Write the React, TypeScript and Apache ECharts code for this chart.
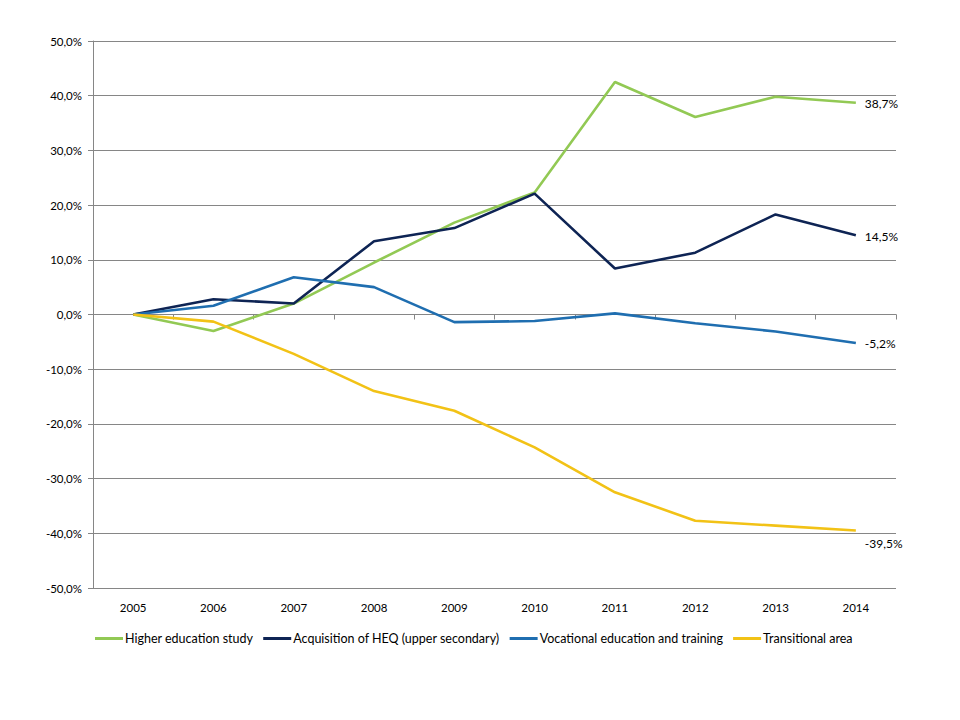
import React, { useEffect, useRef } from "react";
import * as echarts from "echarts";

const years = ["2005", "2006", "2007", "2008", "2009", "2010", "2011", "2012", "2013", "2014"];
const higherEducation = [0, -3.0, 2.0, 9.5, 16.8, 22.3, 42.5, 36.1, 39.8, 38.7];
const acquisitionHEQ = [0, 2.8, 2.0, 13.4, 15.8, 22.1, 8.4, 11.3, 18.3, 14.5];
const vocational = [0, 1.6, 6.8, 5.0, -1.4, -1.2, 0.2, -1.6, -3.1, -5.2];
const transitional = [0, -1.3, -7.2, -14.0, -17.6, -24.3, -32.5, -37.7, -38.6, -39.5];

const seriesNames = [
  "Higher education study",
  "Acquisition of HEQ (upper secondary)",
  "Vocational education and training",
  "Transitional area",
];
const seriesColors = ["#92C954", "#0E2454", "#1F6EB0", "#F2C216"];

const FONT = "Lato, 'Open Sans', sans-serif";
const fmt = (v: number) => v.toFixed(1).replace(".", ",") + "%";

export default function App() {
  const ref = useRef<HTMLDivElement>(null);
  useEffect(() => {
    if (!ref.current) return;
    const chart = echarts.init(ref.current, undefined, { renderer: "svg" });
    const allData = [higherEducation, acquisitionHEQ, vocational, transitional];
    const series = allData.map((vals, i) => ({
      name: seriesNames[i],
      type: "line",
      xAxisIndex: 0,
      yAxisIndex: 0,
      symbol: "none",
      showSymbol: false,
      lineStyle: { width: 2.6, color: seriesColors[i] },
      itemStyle: { color: seriesColors[i] },
      endLabel: {
        show: true,
        distance: 9,
        offset: i === 3 ? [0, 13] : [0, 1],
        formatter: (p: any) => fmt(p.value),
        color: "#000",
        fontSize: 12,
        fontFamily: FONT,
      },
      data: vals,
    }));
    chart.setOption({
      animation: false,
      backgroundColor: "#fff",
      grid: { left: 93, right: 64, top: 41, bottom: 132, containLabel: false },
      legend: {
        left: 90,
        top: 627,
        itemWidth: 28,
        itemHeight: 3,
        itemGap: 10,
        icon: "rect",
        data: seriesNames,
        textStyle: { fontSize: 12.5, color: "#000", fontFamily: FONT, padding: [0, 0, 0, -3] },
      },
      xAxis: [
        {
          type: "category",
          data: years,
          boundaryGap: true,
          position: "bottom",
          axisLine: { show: true, onZero: true, lineStyle: { color: "#868686", width: 1 } },
          axisTick: { show: true, length: 5, lineStyle: { color: "#868686" } },
          axisLabel: { show: false },
          splitLine: { show: false },
        },
        {
          type: "category",
          data: years,
          boundaryGap: true,
          position: "bottom",
          axisLine: { show: false, onZero: false },
          axisTick: { show: false },
          axisLabel: { show: true, margin: 13, fontSize: 11.5, color: "#000", fontFamily: FONT },
          splitLine: { show: false },
        },
      ],
      yAxis: {
        type: "value",
        min: -50,
        max: 50,
        interval: 10,
        axisLine: { show: true, lineStyle: { color: "#868686", width: 1 } },
        axisTick: { show: true, length: 5, lineStyle: { color: "#868686" } },
        axisLabel: { formatter: (v: number) => fmt(v), fontSize: 11.5, color: "#000", fontFamily: FONT, margin: 11 },
        splitLine: { show: true, lineStyle: { color: "#868686", width: 1 } },
      },
      series,
    });
    return () => chart.dispose();
  }, []);
  return <div ref={ref} style={{ width: 960, height: 720, margin: -8 }} />;
}
